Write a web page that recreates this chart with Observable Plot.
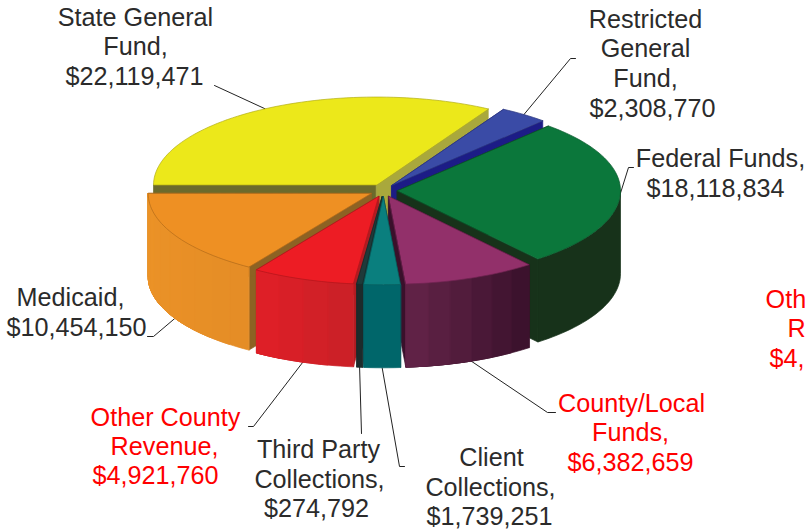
<!DOCTYPE html>
<html>
<head>
<meta charset="utf-8">
<script src="https://cdn.jsdelivr.net/npm/d3@7"></script>
<script src="https://cdn.jsdelivr.net/npm/@observablehq/plot@0.6"></script>
<style>
  html, body { margin: 0; padding: 0; background: #fff; overflow: hidden; }
  svg { display: block; }
</style>
</head>
<body>
<div id="chart"></div>
<script>
// Funding sources, clockwise from the nine o'clock position.
const sources = ["State General Fund", "Restricted General Fund", "Federal Funds", "County/Local Funds",
  "Client Collections", "Third Party Collections", "Other County Revenue", "Medicaid"];
const amounts = [22119471, 2308770, 18118834, 6382659, 1739251, 274792, 4921760, 10454150];

// Surface colours per slice: top, outer wall (start and end of the sweep), first cut, second cut.
const topColors = ["#ece81a", "#3a4ba6", "#0b773b", "#92306a", "#0a7f7e", "#1f3a3a", "#ed1c24", "#ee9023"];
const wallFrom = ["#8a8a20", "#1c1c86", "#17321a", "#38102a", "#00666a", "#1d2b2b", "#c92027", "#e58d26"];
const wallTo = ["#8a8a20", "#1c1c86", "#17321a", "#642449", "#00666a", "#1d2b2b", "#e11f27", "#ec9327"];
const cutStart = ["#6b6a2c", "#1c1c86", "#17321a", "#3a102b", "#1d2b2b", "#1d2b2b", "#b01c22", "#8d6223"];
const cutEnd = ["#a9a83c", "#1c1c86", "#17321a", "#3a102b", "#00666a", "#1d2b2b", "#b01c22", "#8d6223"];

// Layout of the projected disc.
const cx = 383, cy = 190, rx = 223, ry = 88, depth = 83, pull = 14, pullY = 6.3;

const pieAngles = d3.pie().sort(null).startAngle(-Math.PI / 2).endAngle(1.5 * Math.PI)(amounts);
const midAngle = (i) => (pieAngles[i].startAngle + pieAngles[i].endAngle) / 2;

function rim(i, a, drop = 0) {
  const mid = midAngle(i);
  return {
    x: cx + pull * Math.sin(mid) + rx * Math.sin(a),
    y: cy - pullY * Math.cos(mid) - ry * Math.cos(a) + drop
  };
}
function apex(i, drop = 0) {
  const mid = midAngle(i);
  return { x: cx + pull * Math.sin(mid), y: cy - pullY * Math.cos(mid) + drop };
}

// Polygons for every surface, in painting order.
const polys = [];
function addPoly(points, fill, stroke) {
  const id = polys.length;
  polys.push({ id, points: points.map((p) => ({ ...p, id })), fill, stroke: stroke ?? fill });
}
function sweep(a0, a1, step) {
  const n = Math.max(1, Math.ceil((a1 - a0) / step));
  return d3.range(n + 1).map((k) => a0 + (a1 - a0) * k / n);
}
// Curved outer face between two angles on the front half of the disc.
function wallFace(i, a0, a1) {
  const upper = sweep(a0, a1, 0.03).map((a) => rim(i, a));
  const lower = sweep(a0, a1, 0.03).map((a) => rim(i, a, depth)).reverse();
  return [...upper, ...lower];
}

const paintOrder = [0, 1, 2, 7, 6, 3, 5, 4];
for (const i of paintOrder) {
  const { startAngle: a0, endAngle: a1 } = pieAngles[i];
  const edgeColor = d3.color(topColors[i]).darker(0.8).formatHex();
  addPoly([apex(i), rim(i, a0), rim(i, a0, depth), apex(i, depth)], cutStart[i]);
  addPoly([apex(i), rim(i, a1), rim(i, a1, depth), apex(i, depth)], cutEnd[i]);

  // Only the part of the wall facing the viewer is drawn; each band runs to the
  // far end of the slice and the next one paints over it, so no seams appear.
  const front = Math.max(a0, Math.PI / 2);
  if (a1 > front) {
    if (wallFrom[i] === wallTo[i]) {
      addPoly(wallFace(i, front, a1), wallFrom[i]);
    } else {
      const bands = sweep(front, a1, 0.12);
      const ramp = d3.interpolateRgb(wallFrom[i], wallTo[i]);
      for (let k = 0; k < bands.length - 1; k++) {
        const c = d3.color(ramp((k + 0.5) / (bands.length - 1))).formatHex();
        addPoly(wallFace(i, bands[k], a1), c);
      }
    }
  }
  addPoly([apex(i), ...sweep(a0, a1, 0.03).map((a) => rim(i, a))], topColors[i], edgeColor);
}
const polyPoints = polys.flatMap((p) => p.points.map((q) => ({ ...q, fill: p.fill, stroke: p.stroke })));

// Label text, one row per drawn line.
const ink = "#2b2b2b", alert = "#f00";
const labelRows = [
  ["State General", 135, 25, ink], ["Fund,", 135, 54, ink], ["$22,119,471", 134, 84, ink],
  ["Restricted", 645, 27, ink], ["General", 645, 56, ink], ["Fund,", 645, 86, ink], ["$2,308,770", 652, 116, ink],
  ["Federal Funds,", 720, 166, ink], ["$18,118,834", 715, 196, ink],
  ["County/Local", 631, 411, alert], ["Funds,", 630, 440, alert], ["$6,382,659", 630, 470, alert],
  ["Client", 491, 465, ink], ["Collections,", 490, 495, ink], ["$1,739,251", 489, 524, ink],
  ["Third Party", 318, 457, ink], ["Collections,", 319, 487, ink], ["$274,792", 316, 516, ink],
  ["Other County", 165, 425, alert], ["Revenue,", 164, 454, alert], ["$4,921,760", 155, 483, alert],
  ["Medicaid,", 70, 305, ink], ["$10,454,150", 76, 335, ink],
  // The same label placed again past the right edge, where only its start shows.
  ["Other County", 840, 307, alert], ["Revenue,", 841, 336, alert], ["$4,921,760", 832, 366, alert]
].map(([text, x, y, color]) => ({ text, x, y, color }));

// Leader elbows: from the slice's mid-angle on the rim out to its label.
const leaderTargets = [
  [0, 0, [[214, 85]]],
  [1, 0, [[570, 58], [575, 58]]],
  [2, 0, [[628, 167], [633, 167]]],
  [3, depth, [[547, 412], [555, 412]]],
  [4, depth, [[399, 466], [404, 466]]],
  [5, depth, [[361, 433]]],
  [6, depth, [[253, 426], [248, 426]]],
  [7, depth, [[153, 336], [147, 336]]]
];
const leaders = leaderTargets.flatMap(([i, drop, pts]) => {
  const s = rim(i, midAngle(i), drop);
  return [{ id: i, x: s.x, y: s.y }, ...pts.map(([x, y]) => ({ id: i, x, y }))];
});

const chart = Plot.plot({
  width: 805,
  height: 529,
  margin: 0,
  x: { domain: [0, 805], range: [0, 805], axis: null },
  y: { domain: [0, 529], range: [0, 529], axis: null },
  color: { type: "identity" },
  marks: [
    Plot.line(leaders, { x: "x", y: "y", z: "id", stroke: "#222", strokeWidth: 1 }),
    Plot.line(polyPoints, {
      x: "x", y: "y", z: "id",
      fill: "fill", stroke: "stroke",
      strokeWidth: 0.7, curve: "linear-closed"
    }),
    Plot.text(labelRows, {
      x: "x", y: "y", text: "text", fill: "color",
      fontSize: 25.2, fontFamily: "Liberation Sans", textAnchor: "middle", lineAnchor: "bottom"
    })
  ]
});
document.getElementById("chart").append(chart);
</script>
</body>
</html>
